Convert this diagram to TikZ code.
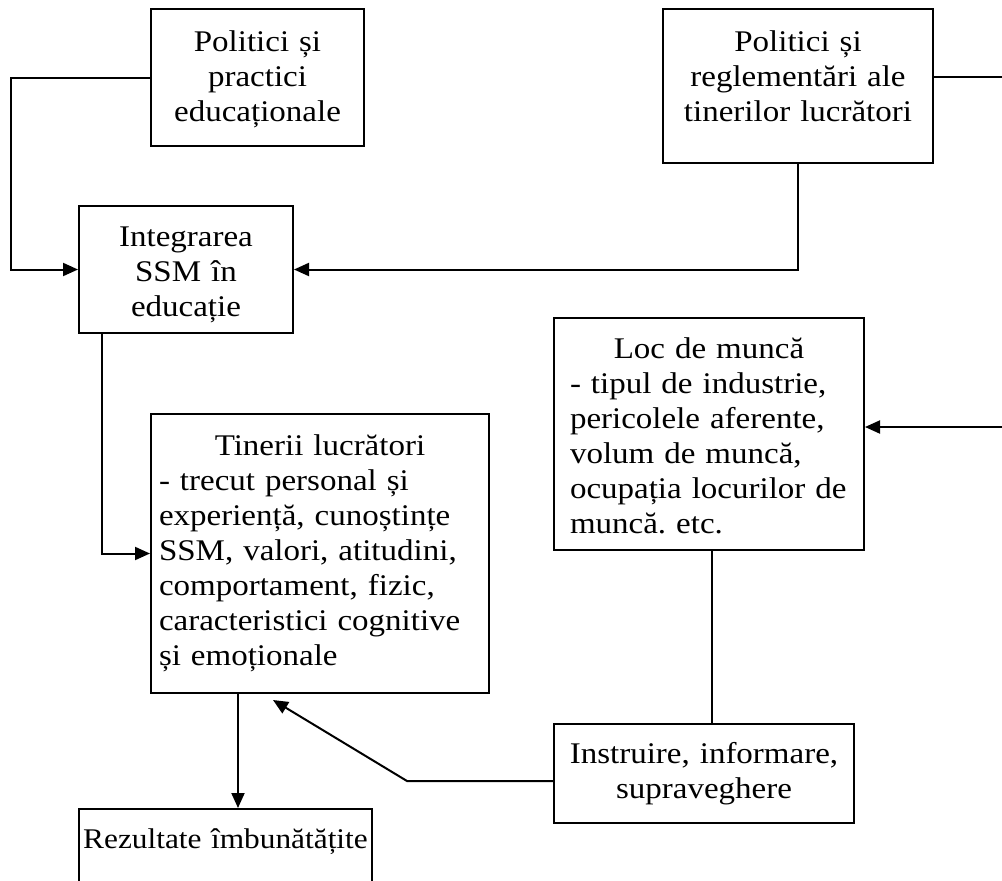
\documentclass[tikz,border=0pt]{standalone}
\usepackage{fontspec}
\setmainfont{Liberation Serif}[FakeStretch=1.1]
\usetikzlibrary{arrows.meta}
\frenchspacing

\begin{document}
\begin{tikzpicture}[x=1pt, y=-1pt]
    \tikzset{
        box/.style={
            draw, line width=2pt, inner sep=0pt, anchor=north west,
            font=\fontsize{30}{35}\selectfont,
        },
        arr/.style={
            line width=2pt, -{Triangle[length=15pt, width=13pt]},
        },
    }
    \useasboundingbox (0, 0) rectangle (1002, 881);

    % Boxes
    \node[box, text width=213, align=center, text height=42, text depth=95]
        (pol1) at (150, 8) {Politici și\\practici\\educaționale};
    \node[box, text width=270, align=center, text height=42, text depth=112]
        (pol2) at (662, 8) {Politici și\\reglementări ale\\tinerilor lucrători};
    \node[box, text width=214, align=center, text height=40, text depth=87]
        (integ) at (78, 205) {Integrarea\\SSM în\\educație};
    \node[box, inner xsep=16, text width=278, align=left, text height=40, text depth=192]
        (loc) at (553, 317) {\makebox[\linewidth]{Loc de muncă}\\- tipul de industrie,\\pericolele aferente,\\volum de muncă,\\ocupația locurilor de\\muncă. etc.};
    \node[box, inner xsep=8, text width=322, align=left, text height=41, text depth=238]
        (tin) at (150, 413) {\makebox[\linewidth]{Tinerii lucrători}\\- trecut personal și\\experiență, cunoștințe\\SSM, valori, atitudini,\\comportament, fizic,\\caracteristici cognitive\\și emoționale};
    \node[box, text width=300, align=center, text height=39, text depth=60]
        (instr) at (553, 723) {Instruire, informare,\\supraveghere};
    \node[box, text width=293, align=center, text height=39, text depth=80, font=\fontsize{28.5}{35}\selectfont]
        (res) at (78, 808) {Rezultate îmbunătățite};

    % Free ends
    \coordinate (lft) at (11, 170);
    \coordinate (r1) at (1006, 77);
    \coordinate (r2) at (1006, 427);
    \coordinate (bend) at (407, 781);

    % Arrows
    \draw[arr] (pol1.west) -| (lft) |- (integ.west);
    \draw[arr] (pol2.south) |- (integ.east);
    \draw[line width=2pt] (r1 -| pol2.east) -- (r1);
    \draw[arr] (r2) -- (r2 -| loc.east);
    \draw[arr] ([xshift=24]integ.south west) |- (tin.west);
    \draw[line width=2pt] ([xshift=3]loc.south) -- ([xshift=3]loc.south |- instr.north);
    \draw[arr] (bend -| instr.west) -- (bend) -- ([shift={(123, 6)}]tin.south west);
    \draw[arr] ([xshift=88]tin.south west) -- ([xshift=88]tin.south west |- res.north);
\end{tikzpicture}
\end{document}
